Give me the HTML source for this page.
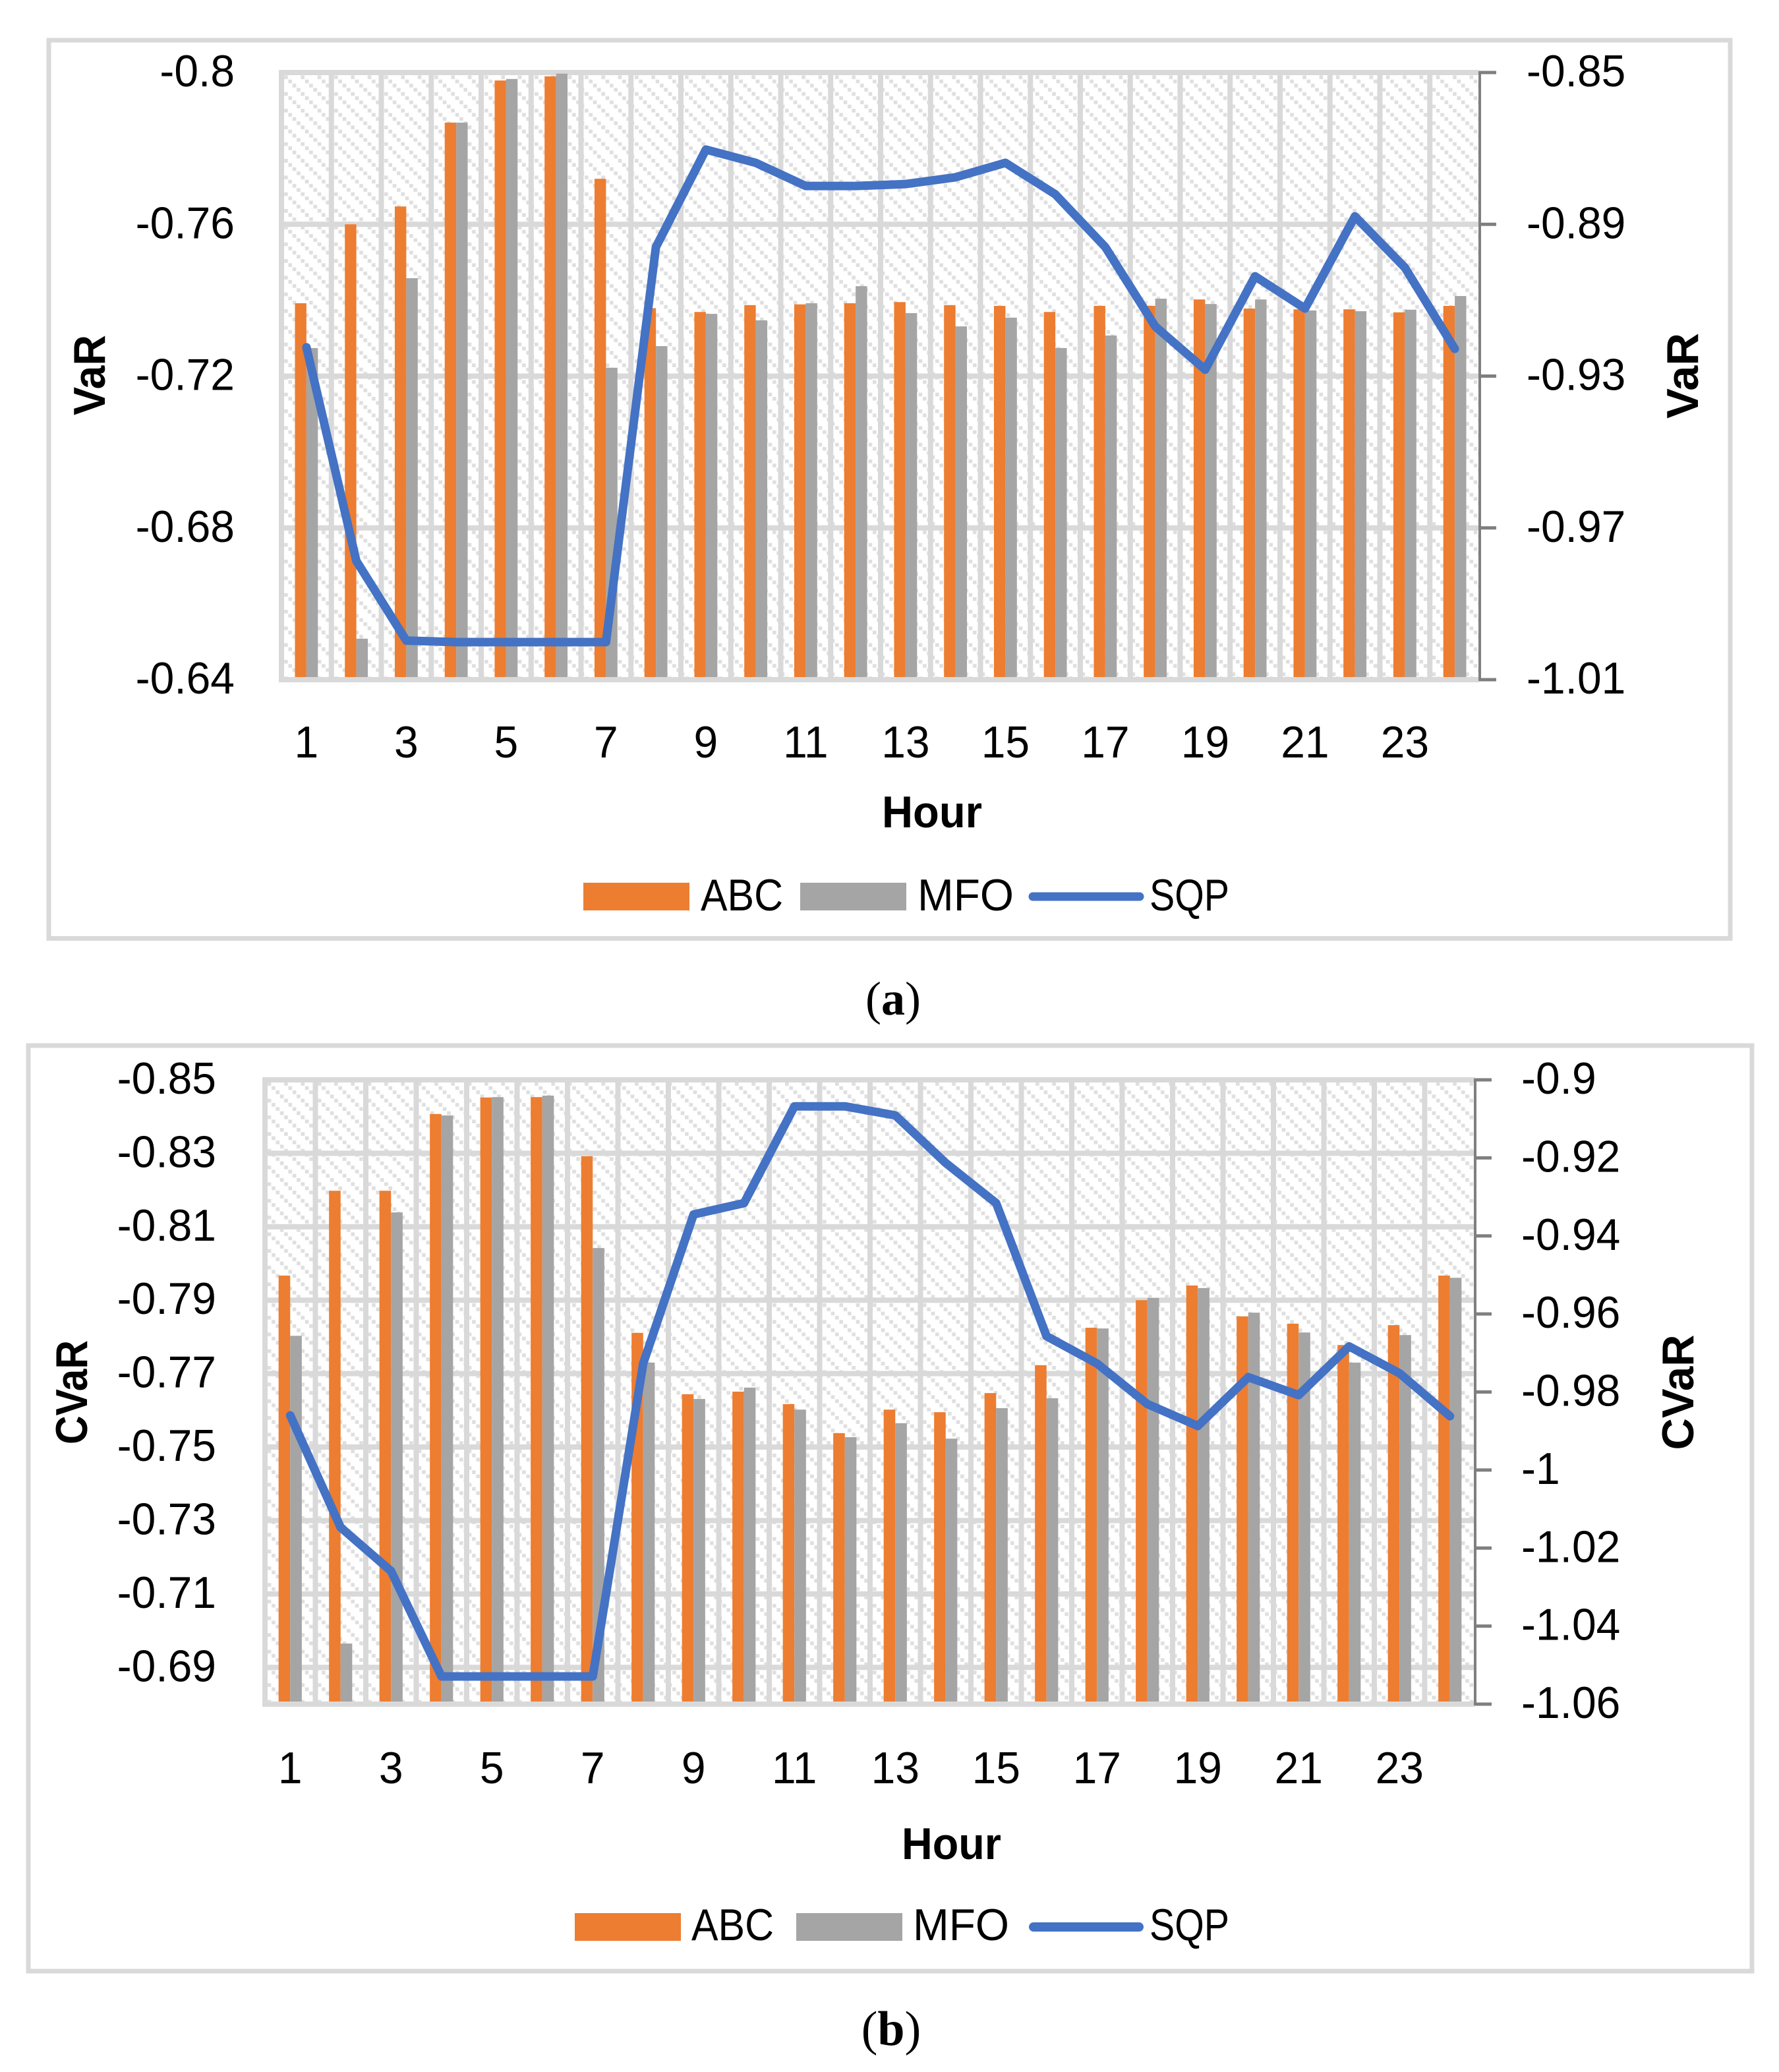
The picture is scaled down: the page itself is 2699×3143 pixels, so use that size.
<!DOCTYPE html>
<html lang="en">
<head>
<meta charset="utf-8">
<title>VaR and CVaR by hour</title>
<style>
html,body{margin:0;padding:0;background:#fff;}
svg{display:block;}
text{font-family:"Liberation Sans",sans-serif;fill:#000;}
.cap{font-family:"Liberation Serif",serif;}
</style>
</head>
<body>
<svg id="figure" xmlns="http://www.w3.org/2000/svg" width="2699" height="3143" viewBox="0 0 2699 3143">
  <defs>
    <pattern id="hatch-a" patternUnits="userSpaceOnUse" x="431.1" y="114.4" width="25.33" height="25.33">
      <rect x="0" y="0" width="5.6" height="5.6" fill="#dfdfdf"/>
      <rect x="6.33" y="6.33" width="5.6" height="5.6" fill="#dfdfdf"/>
      <rect x="12.66" y="12.66" width="5.6" height="5.6" fill="#dfdfdf"/>
      <rect x="19" y="19" width="5.6" height="5.6" fill="#dfdfdf"/>
    </pattern>
    <pattern id="hatch-b" patternUnits="userSpaceOnUse" x="405.8" y="1641.4" width="25.33" height="25.33">
      <rect x="0" y="0" width="5.6" height="5.6" fill="#dfdfdf"/>
      <rect x="6.33" y="6.33" width="5.6" height="5.6" fill="#dfdfdf"/>
      <rect x="12.66" y="12.66" width="5.6" height="5.6" fill="#dfdfdf"/>
      <rect x="19" y="19" width="5.6" height="5.6" fill="#dfdfdf"/>
    </pattern>
  </defs>

  <g id="chart-a">
    <rect x="74" y="61" width="2551" height="1362.5" fill="#fff" stroke="#d9d9d9" stroke-width="7"/>
    <text transform="translate(159,569) rotate(-90)" text-anchor="middle" font-size="68" font-weight="700" textLength="122" lengthAdjust="spacingAndGlyphs">VaR</text>
    <text transform="translate(2576,570) rotate(-90)" text-anchor="middle" font-size="68" font-weight="700" textLength="130" lengthAdjust="spacingAndGlyphs">VaR</text>
    <text x="1338" y="1255" font-size="68" font-weight="700" textLength="152" lengthAdjust="spacingAndGlyphs">Hour</text>
    <g>
      <rect x="885" y="1339" width="161" height="42" fill="#ed7d31"/>
      <text x="1063" y="1381" font-size="68" textLength="125" lengthAdjust="spacingAndGlyphs">ABC</text>
      <rect x="1214" y="1339" width="161" height="42" fill="#a5a5a5"/>
      <text x="1392" y="1381" font-size="68" textLength="146" lengthAdjust="spacingAndGlyphs">MFO</text>
      <line x1="1567" y1="1360" x2="1729" y2="1360" stroke="#4472c4" stroke-width="13" stroke-linecap="round"/>
      <text x="1744" y="1381" font-size="68" textLength="121" lengthAdjust="spacingAndGlyphs">SQP</text>
    </g>
  </g>
  <text class="cap" x="1355" y="1539" text-anchor="middle" font-size="72">(<tspan font-weight="700">a</tspan>)</text>

  <g id="chart-b">
    <rect x="43" y="1586" width="2615" height="1404" fill="#fff" stroke="#d9d9d9" stroke-width="7"/>
    <text transform="translate(132,2112) rotate(-90)" text-anchor="middle" font-size="68" font-weight="700" textLength="158" lengthAdjust="spacingAndGlyphs">CVaR</text>
    <text transform="translate(2569,2112) rotate(-90)" text-anchor="middle" font-size="68" font-weight="700" textLength="175" lengthAdjust="spacingAndGlyphs">CVaR</text>
    <text x="1368" y="2820" font-size="68" font-weight="700" textLength="151" lengthAdjust="spacingAndGlyphs">Hour</text>
    <g>
      <rect x="872" y="2902" width="161" height="42" fill="#ed7d31"/>
      <text x="1049" y="2943" font-size="68" textLength="125" lengthAdjust="spacingAndGlyphs">ABC</text>
      <rect x="1208" y="2902" width="161" height="42" fill="#a5a5a5"/>
      <text x="1385" y="2943" font-size="68" textLength="146" lengthAdjust="spacingAndGlyphs">MFO</text>
      <line x1="1568" y1="2923" x2="1728" y2="2923" stroke="#4472c4" stroke-width="14" stroke-linecap="round"/>
      <text x="1744" y="2943" font-size="68" textLength="121" lengthAdjust="spacingAndGlyphs">SQP</text>
    </g>
  </g>
  <text class="cap" x="1352" y="3102" text-anchor="middle" font-size="74">(<tspan font-weight="700">b</tspan>)</text>
</svg>

<script>
const hours = [1,2,3,4,5,6,7,8,9,10,11,12,13,14,15,16,17,18,19,20,21,22,23,24];
const hourTickLabels = [1,3,5,7,9,11,13,15,17,19,21,23];

const varAbc = [-0.7392,-0.7600,-0.7647,-0.7868,-0.7979,-0.7990,-0.7720,-0.7379,-0.7369,-0.7387,-0.7389,-0.7392,-0.7395,-0.7387,-0.7385,-0.7369,-0.7385,-0.7385,-0.7402,-0.7378,-0.7376,-0.7376,-0.7368,-0.7385];
const varMfo = [-0.7274,-0.6508,-0.7458,-0.7868,-0.7983,-0.7997,-0.7222,-0.7279,-0.7364,-0.7347,-0.7392,-0.7437,-0.7366,-0.7331,-0.7354,-0.7274,-0.7307,-0.7404,-0.7390,-0.7402,-0.7373,-0.7371,-0.7375,-0.7411];
const varSqp = [-0.9224,-0.9787,-0.9997,-1.0001,-1.0001,-1.0001,-1.0001,-0.8960,-0.8703,-0.8738,-0.8799,-0.8799,-0.8794,-0.8776,-0.8738,-0.8821,-0.8960,-0.9169,-0.9283,-0.9037,-0.9122,-0.8879,-0.9014,-0.9228];
const varLeftTicks = ["-0.8","-0.76","-0.72","-0.68","-0.64"];
const varRightTicks = ["-0.85","-0.89","-0.93","-0.97","-1.01"];
const varLeftDomain = [-0.8,-0.64];
const varRightDomain = [-0.85,-1.01];

const cvarAbc = [-0.7967,-0.8198,-0.8198,-0.8407,-0.8452,-0.8453,-0.8292,-0.7811,-0.7644,-0.7651,-0.7617,-0.7538,-0.7602,-0.7595,-0.7647,-0.7723,-0.7825,-0.7900,-0.7940,-0.7856,-0.7836,-0.7778,-0.7832,-0.7967];
const cvarMfo = [-0.7803,-0.6965,-0.8139,-0.8403,-0.8453,-0.8457,-0.8042,-0.7730,-0.7631,-0.7662,-0.7602,-0.7527,-0.7565,-0.7523,-0.7606,-0.7633,-0.7823,-0.7906,-0.7933,-0.7866,-0.7812,-0.7730,-0.7805,-0.7961];
const cvarSqp = [-0.9860,-1.0147,-1.0259,-1.0529,-1.0529,-1.0529,-1.0529,-0.9727,-0.9345,-0.9316,-0.9068,-0.9068,-0.9091,-0.9213,-0.9316,-0.9657,-0.9727,-0.9831,-0.9887,-0.9762,-0.9808,-0.9683,-0.9752,-0.9862];
const cvarLeftTicks = ["-0.85","-0.83","-0.81","-0.79","-0.77","-0.75","-0.73","-0.71","-0.69"];
const cvarRightTicks = ["-0.9","-0.92","-0.94","-0.96","-0.98","-1","-1.02","-1.04","-1.06"];
const cvarLeftDomain = [-0.85,-0.68];
const cvarRightDomain = [-0.9,-1.06];

const NS = "http://www.w3.org/2000/svg";
const TICK_SIZE = 68;
const TICK_SQUEEZE = "scale(0.97,1)";
const GRID_WIDTH = 8;

function make(tag, attrs, parent) {
  const el = document.createElementNS(NS, tag);
  for (const k in attrs) el.setAttribute(k, attrs[k]);
  parent.appendChild(el);
  return el;
}

function drawChart(host, box, s) {
  const step = (box.right - box.left) / hours.length;
  const barW = step * 0.23;
  const xC = function (h) { return box.left + (h - 0.5) * step; };
  const yL = function (v) {
    return box.top + (v - s.leftDomain[0]) / (s.leftDomain[1] - s.leftDomain[0]) * (box.bottom - box.top);
  };
  const yR = function (v) {
    return box.top + (v - s.rightDomain[0]) / (s.rightDomain[1] - s.rightDomain[0]) * (box.bottom - box.top);
  };

  const plot = make("g", {}, host);
  
  

  const bg = make("rect", {x: box.left, y: box.top, width: box.right - box.left, height: box.bottom - box.top, fill: "url(#" + s.hatch + ")"}, plot);
  
  

  hours.forEach(function (h) {
    const gx = box.left + (h - 1) * step;
    const v = make("line", {x1: gx, x2: gx, y1: box.top, y2: box.bottom, stroke: "#d9d9d9", "stroke-width": GRID_WIDTH}, plot);
    
    
  });

  s.leftTicks.forEach(function (label) {
    const gy = yL(parseFloat(label));
    const g = make("line", {x1: box.left - 4, x2: box.right, y1: gy, y2: gy, stroke: "#d9d9d9", "stroke-width": GRID_WIDTH}, plot);
    
    
    const t = make("text", {transform: "translate(" + box.leftLabelX + "," + (gy + 21) + ") " + TICK_SQUEEZE, "text-anchor": "end", "font-size": TICK_SIZE}, plot);
    
    
    t.textContent = label;
  });

  const base = make("line", {x1: box.left - 4, x2: box.right, y1: box.bottom, y2: box.bottom, stroke: "#d9d9d9", "stroke-width": GRID_WIDTH}, plot);
  
  

  hours.forEach(function (h, i) {
    const a = make("rect", {x: xC(h) - barW, y: yL(s.abc[i]), width: barW, height: box.bottom - 4 - yL(s.abc[i]), fill: "#ed7d31"}, plot);
    
    
    const m = make("rect", {x: xC(h), y: yL(s.mfo[i]), width: barW, height: box.bottom - 4 - yL(s.mfo[i]), fill: "#a5a5a5"}, plot);
    
    
  });

  const axis = make("line", {x1: box.right, x2: box.right, y1: box.top - 2, y2: box.bottom + 2, stroke: "#7f7f7f", "stroke-width": 4}, plot);
  
  

  s.rightTicks.forEach(function (label) {
    const ty = yR(parseFloat(label));
    const k = make("line", {x1: box.right, x2: box.right + 25, y1: ty, y2: ty, stroke: "#7f7f7f", "stroke-width": 5}, plot);
    
    
    const t = make("text", {transform: "translate(" + box.rightLabelX + "," + (ty + 21) + ") " + TICK_SQUEEZE, "text-anchor": "start", "font-size": TICK_SIZE}, plot);
    
    
    t.textContent = label;
  });

  hourTickLabels.forEach(function (h) {
    const t = make("text", {transform: "translate(" + xC(h) + "," + box.xLabelY + ") " + TICK_SQUEEZE, "text-anchor": "middle", "font-size": TICK_SIZE}, plot);
    
    
    t.textContent = h;
  });

  const pts = hours.map(function (h, i) { return xC(h).toFixed(1) + "," + yR(s.sqp[i]).toFixed(1); }).join(" ");
  const line = make("polyline", {points: pts, fill: "none", stroke: "#4472c4", "stroke-width": 13, "stroke-linejoin": "round", "stroke-linecap": "round"}, plot);
  
  
}

drawChart(document.getElementById("chart-a"),
  {left: 427, right: 2245, top: 110, bottom: 1031, leftLabelX: 356, rightLabelX: 2316, xLabelY: 1149},
  {abc: varAbc, mfo: varMfo, sqp: varSqp, leftTicks: varLeftTicks, rightTicks: varRightTicks, leftDomain: varLeftDomain, rightDomain: varRightDomain, hatch: "hatch-a"});

drawChart(document.getElementById("chart-b"),
  {left: 402, right: 2238, top: 1638, bottom: 2585, leftLabelX: 328, rightLabelX: 2308, xLabelY: 2705},
  {abc: cvarAbc, mfo: cvarMfo, sqp: cvarSqp, leftTicks: cvarLeftTicks, rightTicks: cvarRightTicks, leftDomain: cvarLeftDomain, rightDomain: cvarRightDomain, hatch: "hatch-b"});
</script>
</body>
</html>
